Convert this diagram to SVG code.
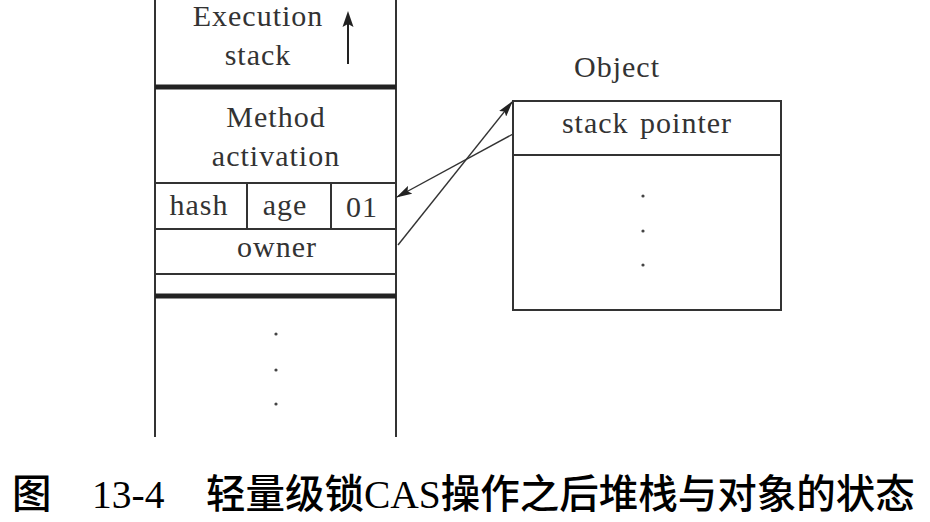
<svg xmlns="http://www.w3.org/2000/svg" width="930" height="522" viewBox="0 0 930 522">
<style>
.t{font-family:"Liberation Serif","Times New Roman",serif;font-size:30px;fill:#333;text-anchor:middle;letter-spacing:1px}
.ln{stroke:#333;stroke-width:2;fill:none}
.thick{stroke:#222;stroke-width:5}
.conn{stroke:#333;stroke-width:1.4;fill:none}
.dot{fill:#444}
.cap{font-size:39.5px;fill:#000}
.cz{font-family:"Noto Sans CJK SC","Noto Sans CJK JP",sans-serif;font-weight:500}
.cl{font-family:"Liberation Serif","Times New Roman",serif}
</style>
<defs>
<marker id="ah" viewBox="0 0 16 9" refX="15" refY="4.5" markerWidth="16" markerHeight="9" markerUnits="userSpaceOnUse" orient="auto">
<path d="M0,0 L16,4.5 L0,9 L3,4.5 Z" fill="#222"/>
</marker>
</defs>
<rect width="930" height="522" fill="#fff"/>

<g id="stack">
<line class="ln" x1="155" y1="0" x2="155" y2="437"/>
<line class="ln" x1="396" y1="0" x2="396" y2="437"/>
<line class="thick" x1="155" y1="87" x2="396" y2="87"/>
<line class="ln" x1="155" y1="183" x2="396" y2="183"/>
<line class="ln" x1="155" y1="229" x2="396" y2="229"/>
<line class="ln" x1="155" y1="274" x2="396" y2="274"/>
<line class="thick" x1="155" y1="296" x2="396" y2="296"/>
<line class="ln" x1="247" y1="183" x2="247" y2="229"/>
<line class="ln" x1="331" y1="183" x2="331" y2="229"/>
</g>

<g id="execution-stack">
<text class="t" x="258" y="26">Execution</text>
<text class="t" x="258" y="65">stack</text>
<line x1="348" y1="64" x2="348" y2="22" stroke="#222" stroke-width="2"/>
<polygon points="348,11 353.5,27 348,24 342.5,27" fill="#222"/>
</g>

<g id="method-activation">
<text class="t" x="276" y="127">Method</text>
<text class="t" x="276" y="166">activation</text>
</g>

<g id="mark-word">
<text class="t" x="199" y="215">hash</text>
<text class="t" x="285" y="215">age</text>
<text class="t" x="362" y="217">01</text>
</g>

<g id="owner">
<text class="t" x="277" y="257">owner</text>
</g>

<g id="stack-rest">
<circle class="dot" cx="276" cy="334" r="1.6"/>
<circle class="dot" cx="276" cy="370" r="1.6"/>
<circle class="dot" cx="276" cy="404" r="1.6"/>
</g>

<g id="object">
<text class="t" x="617" y="77">Object</text>
<rect class="ln" x="513" y="101" width="268" height="209"/>
<line class="ln" x1="513" y1="155" x2="781" y2="155"/>
<text class="t" x="647" y="133" style="word-spacing:3px">stack pointer</text>
<circle class="dot" cx="643" cy="196" r="1.6"/>
<circle class="dot" cx="643" cy="231" r="1.6"/>
<circle class="dot" cx="643" cy="265" r="1.6"/>
</g>

<g id="connectors">
<line class="conn" x1="398" y1="245" x2="512" y2="102" marker-end="url(#ah)"/>
<line class="conn" x1="513" y1="134" x2="397" y2="197" marker-end="url(#ah)"/>
</g>

<g id="caption">
<text class="cap" y="508"><tspan class="cz" x="12">图</tspan><tspan class="cl" x="92">13-4</tspan><tspan class="cz" x="206">轻量级锁</tspan><tspan class="cl">CAS</tspan><tspan class="cz">操作之后堆栈与对象的状态</tspan></text>
</g>
</svg>
